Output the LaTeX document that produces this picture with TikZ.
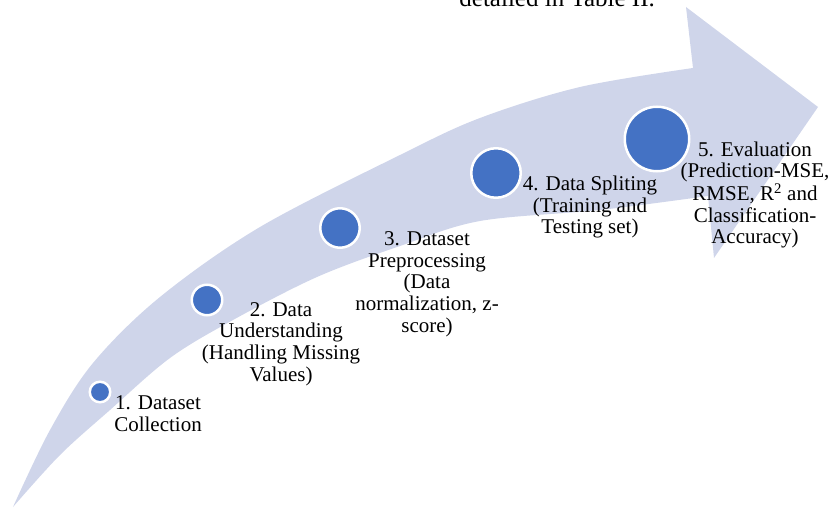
\documentclass[tikz,border=0pt]{standalone}
\usepackage{fontspec}
\setmainfont{Liberation Serif}
\definecolor{bandcol}{RGB}{207,213,234}
\definecolor{dotcol}{RGB}{68,114,196}
\tikzset{
  band/.style={fill=bandcol},
  dot/.style={circle, fill=dotcol, draw=white, line width=2.5pt, inner sep=0pt},
  lbl/.style={align=center, inner sep=0pt, font=\fontsize{21}{21.7}\selectfont},
}
\begin{document}
\begin{tikzpicture}[x=1pt,y=-1pt]
\useasboundingbox (0,0) rectangle (831,508);
\clip (0,0) rectangle (831,508);
% arrow band
\fill[band] (13,507)
  -- plot[smooth, tension=0.55] coordinates {(13,507) (50,430) (93,363) (160,297) (260,227) (400,155) (480,118) (580,87) (693,68)}
  -- (686,7) -- (818,107) -- (714,258) -- (708,196)
  -- plot[smooth, tension=0.55] coordinates {(708,196) (600,210) (480,221) (400,246) (317,277) (233,320) (170,358) (110,410) (60,455) (13,507)}
  -- cycle;
% clipped caption text at top
\node[anchor=base east, inner sep=0pt, font=\fontsize{25}{26}\selectfont] (cap) at (655,7) {detailed in Table II.};
% circles
\node[dot, minimum size=20.5pt] (c1) at (100,392) {};
\node[dot, minimum size=30.5pt] (c2) at (207,300) {};
\node[dot, minimum size=39.5pt] (c3) at (340,228) {};
\node[dot, minimum size=49.5pt] (c4) at (496,173) {};
\node[dot, minimum size=64.5pt] (c5) at (657,139) {};
% labels
\node[lbl] (t1) at (158,414) {1. Dataset\\Collection};
\node[lbl] (t2) at (281,344) {2. Data\\Understanding\\(Handling Missing\\Values)};
\node[lbl] (t3) at (427,284) {3. Dataset\\Preprocessing\\(Data\\normalization, z-\\score)};
\node[lbl] (t4) at (590,207) {4. Data Spliting\\(Training and\\Testing set)};
\node[lbl] (t5) at (755,195) {5. Evaluation\\(Prediction-MSE,\\RMSE, R\textsuperscript{2} and\\Classification-\\Accuracy)};
\end{tikzpicture}
\end{document}
